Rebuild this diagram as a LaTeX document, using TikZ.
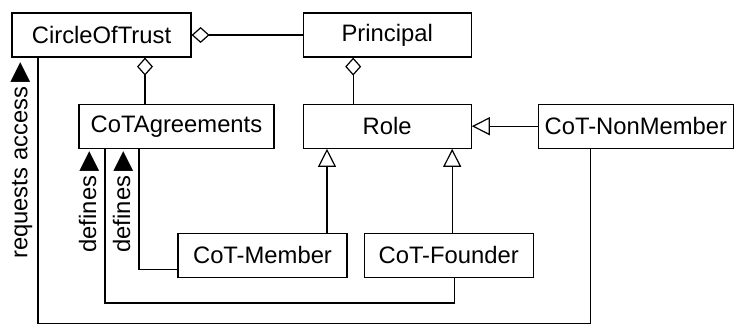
\documentclass[tikz,border=0pt]{standalone}
\usepackage{fontspec}
\setmainfont{Liberation Sans}
\newfontfamily\symfont{DejaVu Sans}
\usepackage{tikz}
\usetikzlibrary{arrows.meta, positioning}

\newcommand{\dirmark}{{\symfont\fontsize{13}{13}\selectfont ▶}}

\begin{document}
\begin{tikzpicture}[node distance=23pt and 55.5pt, line width=0.6pt,
    every node/.style={font=\fontsize{11.9}{14}\selectfont},
    cls/.style={draw, minimum height=22pt, inner sep=0pt},
    agg/.style={arrows={Diamond[open, length=9pt, width=8pt]-}},
    gen/.style={arrows={-Triangle[open, length=9pt, width=9pt]}}]
    \useasboundingbox (-50.75pt,17.5pt) rectangle ++(367pt,-161.5pt);
    \node[cls, minimum width=89.5pt] (cot) {CircleOfTrust};
    \node[cls, minimum width=84pt, right=of cot] (principal) {Principal};
    \node[cls, minimum width=84pt, below=of principal] (role) {Role};
    \node[cls, minimum width=97.5pt, right=33pt of role] (nonmember) {CoT-NonMember};
    \node[cls, minimum width=97.5pt, left=14pt of role] (agree) {CoTAgreements};
    \node[cls, minimum width=84.5pt, below=42pt of role, xshift=30.75pt] (founder) {CoT-Founder};
    \node[cls, minimum width=84.5pt, left=8pt of founder] (member) {CoT-Member};
    % aggregations
    \draw[agg] (cot) -- (principal);
    \draw[agg] ([xshift=21.75pt]cot.south) coordinate (c1) -- (c1 |- agree.north);
    \draw[agg] ([xshift=-17pt]principal.south) coordinate (c2) -- (c2 |- role.north);
    % generalizations
    \draw[gen] (nonmember) -- (role);
    \draw[gen] ([xshift=32.25pt]member.north) coordinate (c3) -- (c3 |- role.south);
    \draw[gen] ([xshift=1.75pt]founder.north) coordinate (c4) -- (c4 |- role.south);
    % associations
    \draw ([yshift=-7pt]member.west) -| node[pos=0.779, sloped, above, inner sep=2.5pt] {defines\,\dirmark} ([xshift=-18.75pt]agree.south);
    \draw ([xshift=2.75pt]founder.south) -- ++(0,-12.5pt) -| node[pos=0.827, sloped, above, inner sep=2.5pt] {defines\,\dirmark} ([xshift=-35.75pt]agree.south);
    \draw ([xshift=-22.75pt]nonmember.south) -- ++(0,-87.5pt) -| node[pos=0.806, sloped, above, inner sep=2.5pt] {requests access\,\dirmark} ([xshift=-31.75pt]cot.south);
\end{tikzpicture}
\end{document}
